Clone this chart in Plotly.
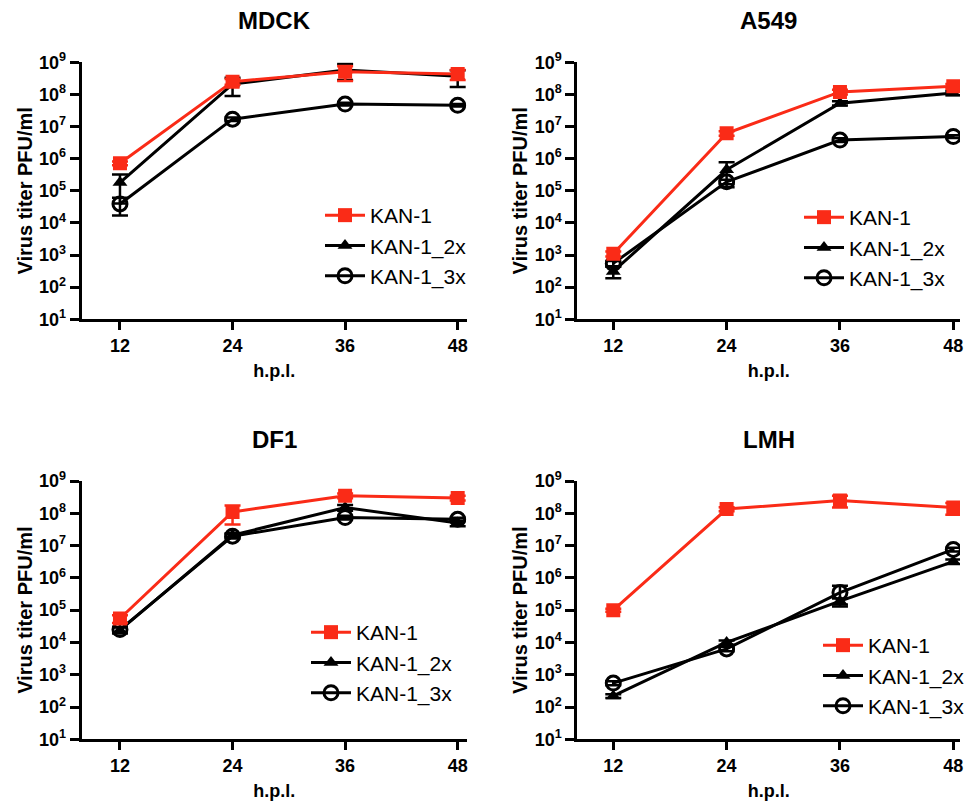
import plotly.graph_objects as go

# page body adds an 8px margin; lay out in window pixels and shift
OFF = 8
W, H = 974 - OFF, 801 - OFF

hpl = [12, 24, 36, 48]
panels = ["MDCK", "A549", "DF1", "LMH"]
series_names = ["KAN-1", "KAN-1_2x", "KAN-1_3x"]

# mean titers (PFU/ml)
mdck_kan1 = [7.2e5, 2.5e8, 5.1e8, 4.3e8]
mdck_kan1_2x = [1.8e5, 2.1e8, 5.8e8, 3.7e8]
mdck_kan1_3x = [3.9e4, 1.7e7, 5.0e7, 4.6e7]
a549_kan1 = [1.1e3, 6.2e6, 1.2e8, 1.8e8]
a549_kan1_2x = [3.1e2, 4.5e5, 5.3e7, 1.1e8]
a549_kan1_3x = [5.5e2, 1.9e5, 3.8e6, 4.9e6]
df1_kan1 = [5.5e4, 1.1e8, 3.5e8, 3.0e8]
df1_kan1_2x = [2.4e4, 2.1e7, 1.5e8, 5.0e7]
df1_kan1_3x = [2.5e4, 1.95e7, 7.4e7, 6.5e7]
lmh_kan1 = [1.0e5, 1.35e8, 2.5e8, 1.5e8]
lmh_kan1_2x = [2.2e2, 1.0e4, 1.9e5, 3.2e6]
lmh_kan1_3x = [5.5e2, 6.3e3, 3.5e5, 7.6e6]

# error (SD)
mdck_kan1_err = [1.0e5, 5.0e7, 2.5e8, 1.5e8]
mdck_kan1_2x_err = [1.4e5, 1.2e8, 3.0e8, 2.0e8]
mdck_kan1_3x_err = [2.2e4, 2.0e6, 5.0e6, 4.0e6]
a549_kan1_err = [2.0e2, 1.0e6, 2.0e7, 3.0e7]
a549_kan1_2x_err = [1.2e2, 3.2e5, 8.0e6, 1.5e7]
a549_kan1_3x_err = [1.0e2, 3.0e4, 5.0e5, 5.0e5]
df1_kan1_err = [1.5e4, 6.5e7, 6.0e7, 5.0e7]
df1_kan1_2x_err = [5.0e3, 3.0e6, 3.0e7, 1.0e7]
df1_kan1_3x_err = [5.0e3, 3.0e6, 1.0e7, 8.0e6]
lmh_kan1_err = [1.0e4, 2.0e7, 1.0e8, 6.0e7]
lmh_kan1_2x_err = [3.0e1, 1.5e3, 4.0e4, 5.0e5]
lmh_kan1_3x_err = [8.0e1, 1.0e3, 2.2e5, 1.0e6]

y_tick_vals = [1e1, 1e2, 1e3, 1e4, 1e5, 1e6, 1e7, 1e8, 1e9]
y_tick_text = ["10<sup>%d</sup>" % e for e in range(1, 10)]
x_tick_text = ["12", "24", "36", "48"]

panel_data = [
    (mdck_kan1, mdck_kan1_2x, mdck_kan1_3x, mdck_kan1_err, mdck_kan1_2x_err, mdck_kan1_3x_err),
    (a549_kan1, a549_kan1_2x, a549_kan1_3x, a549_kan1_err, a549_kan1_2x_err, a549_kan1_3x_err),
    (df1_kan1, df1_kan1_2x, df1_kan1_3x, df1_kan1_err, df1_kan1_2x_err, df1_kan1_3x_err),
    (lmh_kan1, lmh_kan1_2x, lmh_kan1_3x, lmh_kan1_err, lmh_kan1_2x_err, lmh_kan1_3x_err),
]

RED = "#FA2B17"
BLACK = "#000000"
FONT = "Liberation Sans, Arial, Helvetica, sans-serif"

# geometry in window pixels: (x_left, x_right, y_top, y_bottom, xrange, legend_x, legend_y)
geo = [
    (81.7, 466.7, 62.3, 319.3, [7.92, 48.96], 325, 213),
    (577.3, 960.0, 62.3, 319.3, [8.19, 48.71], 804, 215),
    (81.7, 466.7, 481.0, 739.3, [7.92, 48.96], 311, 630),
    (577.3, 960.0, 481.0, 739.3, [8.19, 48.71], 823, 643),
]


def px(x):
    return (x - OFF) / W


def py(y):
    return 1 - (y - OFF) / H


fig = go.Figure()
layout = dict(
    width=W, height=H, margin=dict(l=0, r=0, t=0, b=0),
    plot_bgcolor="white", paper_bgcolor="white",
    font=dict(family=FONT, color="black"),
    annotations=[],
)

for i, (name, data, g) in enumerate(zip(panels, panel_data, geo)):
    k = "" if i == 0 else str(i + 1)
    xa, ya = "x" + k, "y" + k
    leg = "legend" + k
    v1, v2, v3, e1, e2, e3 = data
    fig.add_trace(go.Scatter(
        x=hpl, y=v3, name=series_names[2], xaxis=xa, yaxis=ya, legend=leg,
        legendrank=3, mode="lines+markers",
        line=dict(color=BLACK, width=3),
        marker=dict(symbol="circle-open", size=14, color=BLACK, line=dict(width=3)),
        error_y=dict(type="data", array=e3, color=BLACK, thickness=2.5, width=8),
    ))
    fig.add_trace(go.Scatter(
        x=hpl, y=v2, name=series_names[1], xaxis=xa, yaxis=ya, legend=leg,
        legendrank=2, mode="lines+markers",
        line=dict(color=BLACK, width=3),
        marker=dict(symbol="triangle-up", size=13, color=BLACK),
        error_y=dict(type="data", array=e2, color=BLACK, thickness=2.5, width=8),
    ))
    fig.add_trace(go.Scatter(
        x=hpl, y=v1, name=series_names[0], xaxis=xa, yaxis=ya, legend=leg,
        legendrank=1, mode="lines+markers",
        line=dict(color=RED, width=3),
        marker=dict(symbol="square", size=14, color=RED),
        error_y=dict(type="data", array=e1, color=RED, thickness=2.5, width=8),
    ))
    xl, xr, yt, yb, xrange, lx, ly = g
    layout["xaxis" + k] = dict(
        domain=[px(xl), px(xr)], range=xrange, anchor=ya,
        tickvals=hpl, ticktext=x_tick_text,
        ticks="outside", ticklen=8, tickwidth=3, tickcolor="black",
        showline=True, linewidth=3, linecolor="black", showgrid=False, zeroline=False,
        tickfont=dict(size=18, family=FONT, weight="bold"),
        title=dict(text="h.p.l.", font=dict(size=18, family=FONT, weight="bold"), standoff=10),
        automargin=False,
    )
    layout["yaxis" + k] = dict(
        domain=[py(yb), py(yt)], type="log", range=[1, 9], anchor=xa,
        tickvals=y_tick_vals, ticktext=y_tick_text,
        ticks="outside", ticklen=9, tickwidth=3, tickcolor="black",
        showline=True, linewidth=3, linecolor="black", showgrid=False, zeroline=False,
        tickfont=dict(size=18, family=FONT, weight="bold"),
        title=dict(text="Virus titer PFU/ml", font=dict(size=20, family=FONT, weight="bold"), standoff=2),
        automargin=False,
    )
    layout[leg] = dict(
        x=px(lx - 5), y=py(ly - 18), xanchor="left", yanchor="top",
        bgcolor="rgba(0,0,0,0)", borderwidth=0,
        font=dict(size=21, family=FONT, color="black"),
        itemwidth=40, traceorder="normal",
    )
    layout["annotations"].append(dict(
        text=name, x=px((xl + xr) / 2), y=py(yt - 42), xref="paper", yref="paper",
        xanchor="center", yanchor="middle", showarrow=False,
        font=dict(size=24, family=FONT, weight="bold", color="black"),
    ))

fig.update_layout(**layout)
fig.write_html("out.html")
